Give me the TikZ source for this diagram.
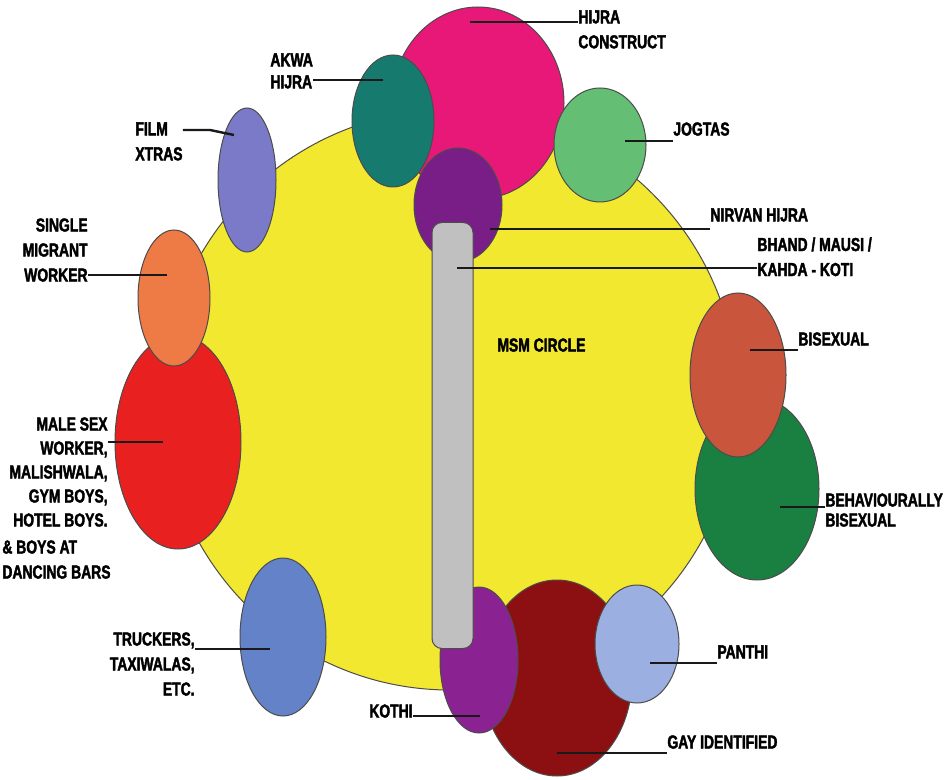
\documentclass[tikz,border=0pt]{standalone}
\usepackage{fontspec}
\usetikzlibrary{shapes.geometric}
\newfontfamily\lblfont[FakeStretch=0.74,FakeBold=2]{Liberation Sans Bold}
\definecolor{cyel}{RGB}{242,232,48}
\definecolor{cpink}{RGB}{232,24,120}
\definecolor{cteal}{RGB}{22,122,110}
\definecolor{cjog}{RGB}{100,190,115}
\definecolor{cnirv}{RGB}{122,30,135}
\definecolor{cgray}{RGB}{192,192,192}
\definecolor{cfilm}{RGB}{122,122,200}
\definecolor{corange}{RGB}{238,122,70}
\definecolor{cred}{RGB}{232,32,32}
\definecolor{ctruck}{RGB}{100,130,200}
\definecolor{ckothi}{RGB}{138,35,145}
\definecolor{cgay}{RGB}{140,16,18}
\definecolor{cpanthi}{RGB}{155,175,225}
\definecolor{cbi}{RGB}{200,85,60}
\definecolor{cbehav}{RGB}{25,128,65}
\begin{document}
\begin{tikzpicture}[x=0.5pt,y=-0.5pt,
  blob/.style={ellipse, draw=black!70, line width=0.5pt, inner sep=0pt},
  lead/.style={draw=black!90, line width=1.2pt},
  lbl/.style={inner sep=0pt, text=black, font={\lblfont\fontsize{9.4}{12.5}\selectfont}},
]
\useasboundingbox[fill=white] (0,0) rectangle (947,780);
\begin{scope}
\clip (0,0) rectangle (947,780);
% shapes
\node[blob, fill=cyel, minimum width=288pt, minimum height=290pt] (yel) at (450,400) {};
\node[blob, fill=cfilm, minimum width=29pt, minimum height=72pt] (film) at (247,180) {};
\node[blob, fill=cred, minimum width=63pt, minimum height=107pt] (msw) at (178,442) {};
\node[blob, fill=corange, minimum width=36pt, minimum height=68pt] (smw) at (174,298) {};
\node[blob, fill=ctruck, minimum width=43pt, minimum height=79pt] (truck) at (283,637) {};
\node[blob, fill=cpink, minimum width=86pt, minimum height=96pt] (hijra) at (478,103) {};
\node[blob, fill=cteal, minimum width=41pt, minimum height=66pt] (akwa) at (393,121) {};
\node[blob, fill=cjog, minimum width=46pt, minimum height=57pt] (jog) at (600,145) {};
\node[blob, fill=cnirv, minimum width=44pt, minimum height=57pt] (nirv) at (458,205) {};
\node[blob, fill=cgay, minimum width=75pt, minimum height=98pt] (gay) at (557,678) {};
\node[blob, fill=ckothi, minimum width=39pt, minimum height=73pt] (kothi) at (479,660) {};
\node[draw=black!70, line width=0.5pt, fill=cgray, rounded corners=5pt, inner sep=0pt,
      minimum width=20.5pt, minimum height=213pt] (bar) at (452.5,435.5) {};
\node[blob, fill=cpanthi, minimum width=42pt, minimum height=59pt] (panthi) at (637,644) {};
\node[blob, fill=cbehav, minimum width=62pt, minimum height=91pt] (behav) at (757,489) {};
\node[blob, fill=cbi, minimum width=48pt, minimum height=82pt] (bisex) at (738,375) {};

% labels
\node[lbl, anchor=north west, align=left] (hcl) at (578,10) {HIJRA\\CONSTRUCT};
\node[lbl, anchor=north west, align=left] (akl) at (270,53) {AKWA\\[-1.5pt]HIJRA};
\node[lbl, anchor=north west, align=left] (fxl) at (135,122) {FILM\\XTRAS};
\node[lbl, anchor=north east, align=right] (sml) at (88,218) {SINGLE\\MIGRANT\\WORKER};
\node[lbl, anchor=north east, align=right] (msl) at (108,417) {MALE SEX\\[-0.5pt]WORKER,\\[-0.5pt]MALISHWALA,\\[-0.5pt]GYM BOYS,\\[-0.5pt]HOTEL BOYS.};
\node[lbl, anchor=north west, align=left] (msl2) at (2,540) {\& BOYS AT\\DANCING BARS};
\node[lbl, anchor=north east, align=right] (trl) at (195,632) {TRUCKERS,\\TAXIWALAS,\\ETC.};
\node[lbl, anchor=north east] (kol) at (413,704) {KOTHI};
\node[lbl, anchor=north west] (gil) at (667,735) {GAY IDENTIFIED};
\node[lbl, anchor=north west] (pal) at (717,645) {PANTHI};
\node[lbl, anchor=north west, align=left] (bbl) at (825,493) {BEHAVIOURALLY\\[-2.5pt]BISEXUAL};
\node[lbl, anchor=north west] (bil) at (798,332) {BISEXUAL};
\node[lbl, anchor=north west] (jol) at (673,122) {JOGTAS};
\node[lbl, anchor=north west] (nhl) at (710,208) {NIRVAN HIJRA};
\node[lbl, anchor=north west, align=left] (bhl) at (757,237) {BHAND / MAUSI /\\KAHDA - KOTI};
\node[lbl, anchor=north west] (msml) at (497,338) {MSM CIRCLE};

% leader end points inside the shapes
\coordinate (hcp) at (470,22);
\coordinate (akp) at (383,80);
\coordinate (fxp) at (234,135);
\coordinate (fxk) at (210,130);
\coordinate (smp) at (167,275);
\coordinate (msp) at (163,442);
\coordinate (trp) at (270,649);
\coordinate (kop) at (480,716);
\coordinate (gip) at (557,753);
\coordinate (pap) at (650,663);
\coordinate (bbp) at (780,507);
\coordinate (bip) at (750,350);
\coordinate (jop) at (625,141);
\coordinate (nhp) at (490,229);
\coordinate (bhp) at (457,268);

% leaders
\draw[lead] (hcp) -- (hcp -| hcl.west);
\draw[lead] (akp) -- (akp -| akl.east);
\draw[lead] (fxp) -- (fxk) -- (fxk -| fxl.east);
\draw[lead] (smp) -- (smp -| sml.east);
\draw[lead] (msp) -- (msp -| msl.east);
\draw[lead] (trp) -- (trp -| trl.east);
\draw[lead] (kop) -- (kop -| kol.east);
\draw[lead] (gip) -- (gip -| gil.west);
\draw[lead] (pap) -- (pap -| pal.west);
\draw[lead] (bbp) -- (bbp -| bbl.west);
\draw[lead] (bip) -- (bip -| bil.west);
\draw[lead] (jop) -- (jop -| jol.west);
\draw[lead] (nhp) -- (nhp -| nhl.west);
\draw[lead] (bhp) -- (bhp -| bhl.west);
\end{scope}
\end{tikzpicture}
\end{document}
